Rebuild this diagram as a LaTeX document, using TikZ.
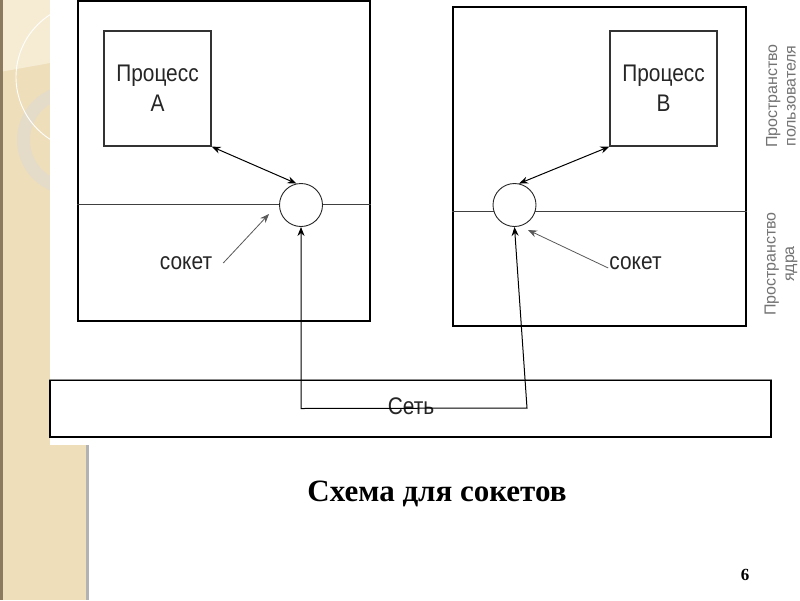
\documentclass[tikz,border=0pt]{standalone}
\usepackage{fontspec}
\usepackage{graphicx}
\setmainfont{Liberation Serif}
\newfontfamily\arialf{Liberation Sans}
\usetikzlibrary{arrows.meta,calc}
\newcommand\condtxt[1]{\scalebox{0.87}[1]{#1}}
\definecolor{beige}{RGB}{238,222,186}
\definecolor{beigelight}{RGB}{246,236,212}
\definecolor{ringc}{RGB}{228,220,200}
\definecolor{edgebrown}{RGB}{140,122,95}
\begin{document}
\begin{tikzpicture}[x=1pt,y=-1pt,
  outerbox/.style={draw=black, line width=1.6, inner sep=0, fill=none},
  procbox/.style={draw=black!80, line width=1.2, fill=white, inner sep=0,
    minimum width=107, minimum height=115, align=center, text=black!85,
    font=\arialf\fontsize{24}{30}\selectfont},
  sock/.style={circle, draw=black!85, line width=0.9, fill=white, minimum size=43, inner sep=0},
  divider/.style={draw=black!75, line width=1},
  lbl/.style={font=\arialf\fontsize{24}{28}\selectfont, text=black!85, inner sep=0},
  dblarrow/.style={line width=1, {Stealth[length=9,width=7]}-{Stealth[length=9,width=7]}},
  pointer/.style={line width=0.8, draw=black!65, -{Stealth[length=9,width=7]}},
  side/.style={font=\arialf\fontsize{16}{18.5}\selectfont, text=black!55, rotate=90, align=center, inner sep=0}
]
\useasboundingbox (0,0) rectangle (800,600);
\fill[white] (0,0) rectangle (800,600);
% decorative strip
\fill[beige] (0,0) rectangle (88,600);
\begin{scope}
  \clip (0,0) rectangle (50,445);
  \fill[beigelight] (0,0) -- (50,0) -- (50,63) -- (0,72) -- cycle;
  \fill[ringc, even odd rule] (72,140) circle (55) (72,140) circle (42);
  \draw[white, line width=0.9] (90,77) circle (74);
\end{scope}
\fill[edgebrown] (0,0) rectangle (2.5,600);
\fill[black!30] (86,445) rectangle (89,600);
\fill[white] (50,0) rectangle (800,445);

% boxes
\node[outerbox, minimum width=292, minimum height=320] (boxA) at (224,161) {};
\node[outerbox, minimum width=293, minimum height=319] (boxB) at (599.5,166.5) {};
\draw[divider] (boxA.west |- 0,204) -- (boxA.east |- 0,204);
\draw[divider] (boxB.west |- 0,211) -- (boxB.east |- 0,211);

\node[procbox] (procA) at (157.5,88.5) {\condtxt{Процесс}\\\condtxt{A}};
\node[procbox] (procB) at (663.5,88.5) {\condtxt{Процесс}\\\condtxt{B}};

\node[sock] (sockA) at (301,205) {};
\node[sock] (sockB) at (514.5,205) {};

% network
\node[draw=black, line width=1.3, inner sep=0, minimum width=721, minimum height=57] (net) at (410.5,408.5) {};
\draw[black!45, line width=1.5] (net.north west) -- (net.north east);
\node[lbl] (netlbl) at (411,406) {\condtxt{Сеть}};

% process-socket arrows
\draw[dblarrow] (procA.south east) -- (sockA.102);
\draw[dblarrow] (procB.south west) -- (sockB.78);

% network wiring
\coordinate (jA) at (sockA.south |- net.center);
\coordinate (jB) at (527,408);
\draw[line width=1, {Stealth[length=9,width=7]}-{Stealth[length=9,width=7]}]
  (sockA.south) -- (jA) -- (jB) -- (sockB.south);

% socket labels
\node[lbl] (lblA) at (186,263) {\condtxt{сокет}};
\node[lbl] (lblB) at (635.5,263) {\condtxt{сокет}};
\coordinate (tipA) at (269,214);
\coordinate (tipB) at (528,230);
\draw[pointer] ($(lblA.east)+(11,0)$) -- (tipA);
\draw[pointer] ($(lblB.west)+(-1,5)$) -- (tipB);

% side labels
\node[side] (userspace) at (781,96) {Пространство\\пользователя};
\node[side] (kernelspace) at (781,264) {Пространство\\ядра};

% title and page number
\node[font=\bfseries\fontsize{31}{34}\selectfont] (title) at (437,494) {Схема для сокетов};
\node[font=\bfseries\fontsize{17}{18}\selectfont] (page) at (745,575) {6};
\end{tikzpicture}
\end{document}
